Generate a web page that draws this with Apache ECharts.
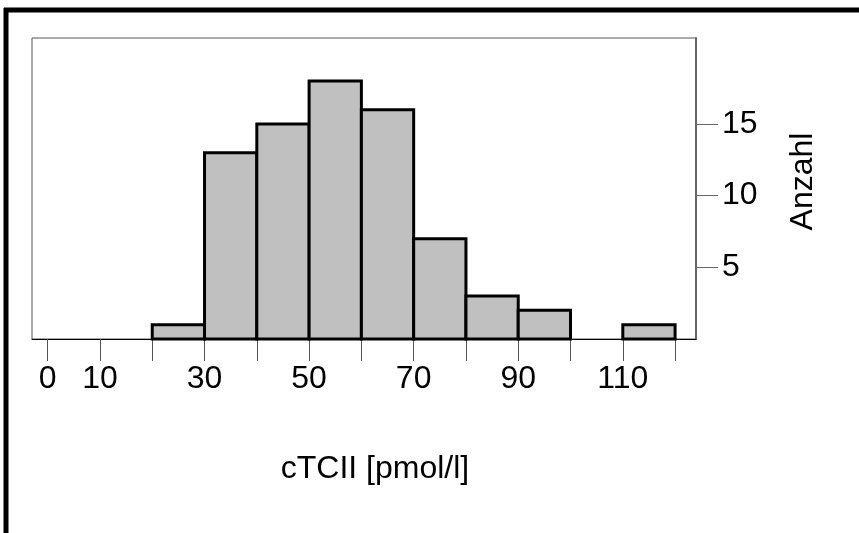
<!DOCTYPE html>
<html>
<head>
<meta charset="utf-8">
<script src="https://cdn.jsdelivr.net/npm/echarts@6/dist/echarts.min.js"></script>
<style>
  html, body { margin: 0; padding: 0; background: #fff; }
  #myChart { width: 859px; height: 533px; }
</style>
</head>
<body>
<div id="myChart"></div>
<script>
// Histogramm cTCII
const binStart = [20, 30, 40, 50, 60, 70, 80, 90, 110];
const counts = [1, 13, 15, 18, 16, 7, 3, 2, 1];
const binWidth = 10;
const xTicks = [0, 10, 20, 30, 40, 50, 60, 70, 80, 90, 100, 110, 120];
const xLabels = [0, 10, 30, 50, 70, 90, 110];
const yTicks = [5, 10, 15];

const bars = binStart.map((s, i) => [s, s + binWidth, counts[i]]);

let myChart = echarts.init(document.getElementById('myChart'));
let option = {
  animation: false,
  textStyle: { fontFamily: 'Liberation Sans, Arial, sans-serif' },
  grid: {
    left: 32, right: 163, top: 38, bottom: 194,
    show: true, borderColor: '#555', borderWidth: 1
  },
  graphic: [
    { type: 'line', shape: { x1: 4, y1: 10, x2: 859, y2: 10 }, style: { stroke: '#000', lineWidth: 5 } },
    { type: 'line', shape: { x1: 6, y1: 8, x2: 6, y2: 533 }, style: { stroke: '#000', lineWidth: 5 } }
  ],
  xAxis: {
    type: 'value',
    min: -3, max: 124,
    name: 'cTCII [pmol/l]',
    nameLocation: 'middle',
    nameGap: 114,
    nameTextStyle: { fontSize: 32, color: '#000', padding: [0, 0, 0, 22] },
    splitLine: { show: false },
    axisLine: { show: true, onZero: false, lineStyle: { color: '#000', width: 1 } },
    axisTick: { show: true, length: 22, customValues: xTicks, lineStyle: { color: '#555' } },
    axisLabel: { customValues: xLabels, fontSize: 32, color: '#000', margin: 24 }
  },
  yAxis: {
    type: 'value',
    position: 'right',
    min: 0, max: 21,
    name: 'Anzahl',
    nameLocation: 'middle',
    nameRotate: 90,
    nameGap: 91,
    nameTextStyle: { fontSize: 32, color: '#000', padding: [0, 0, 0, 14] },
    splitLine: { show: false },
    axisLine: { show: true, onZero: false, lineStyle: { color: '#666', width: 2 } },
    axisTick: { show: true, length: 22, customValues: yTicks, lineStyle: { color: '#666' } },
    axisLabel: { customValues: yTicks, fontSize: 32, color: '#000', margin: 26 }
  },
  series: [{
    type: 'custom',
    data: bars,
    renderItem: function (params, api) {
      let p0 = api.coord([api.value(0), api.value(2)]);
      let p1 = api.coord([api.value(1), 0]);
      return {
        type: 'rect',
        shape: { x: p0[0], y: p0[1], width: p1[0] - p0[0], height: p1[1] - p0[1] },
        style: { fill: '#c0c0c0', stroke: '#000', lineWidth: 3 }
      };
    }
  }]
};
myChart.setOption(option);
</script>
</body>
</html>
